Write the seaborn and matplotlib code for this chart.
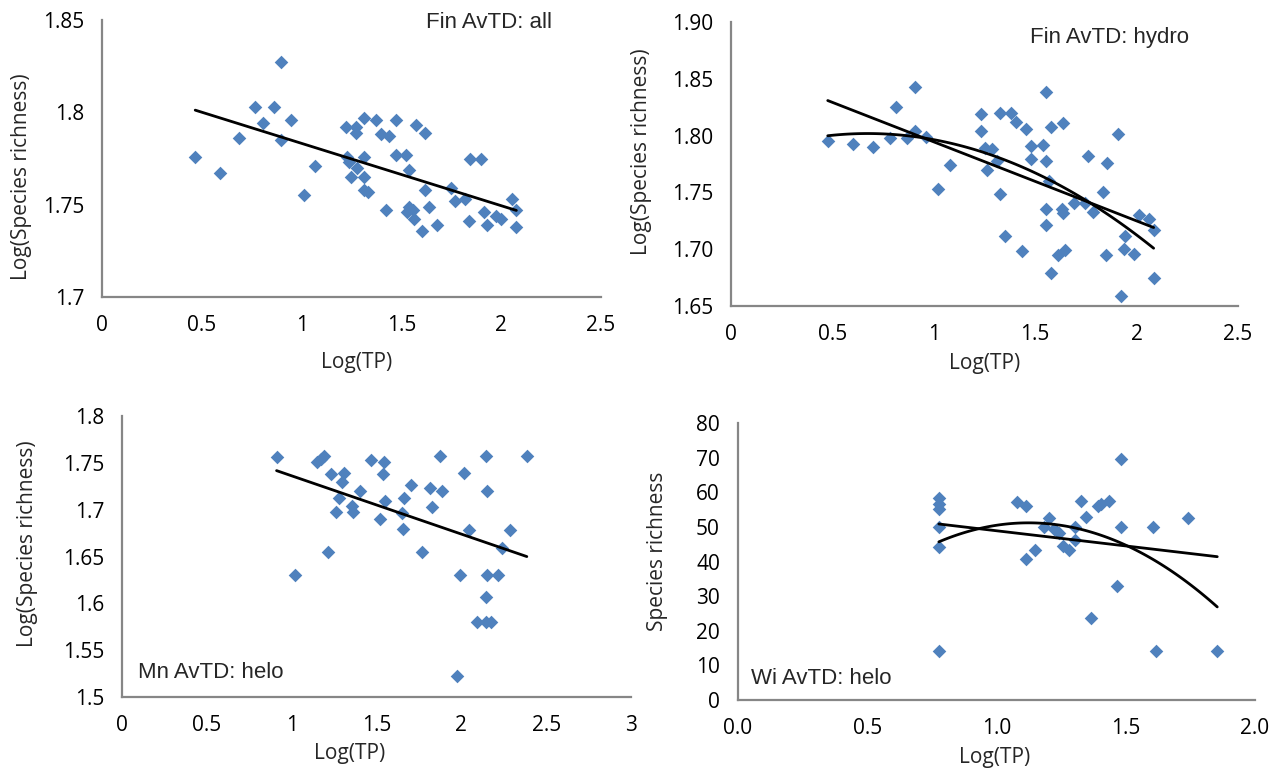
import matplotlib
matplotlib.use("Agg")
import matplotlib.pyplot as plt
import pandas as pd
import seaborn as sns
from matplotlib.ticker import FuncFormatter, MultipleLocator

W, H = 1285, 778
BLUE = "#4F81BD"
GREY = "#868686"

# Fin AvTD: all
fin_all_tp = [0.467, 0.590, 0.686, 0.765, 0.806, 0.861, 0.896, 0.896, 0.947, 1.012,
              1.067, 1.222, 1.273, 1.273, 1.313, 1.373, 1.225, 1.239, 1.278, 1.313,
              1.247, 1.313, 1.313, 1.333, 1.397, 1.436, 1.471, 1.471, 1.522, 1.539,
              1.424, 1.574, 1.620, 1.539, 1.530, 1.556, 1.565, 1.620, 1.637, 1.602,
              1.676, 1.750, 1.767, 1.819, 1.845, 1.901, 1.839, 1.913, 1.930, 1.973,
              1.999, 2.054, 2.076, 2.074]
fin_all_rich = [1.776, 1.767, 1.786, 1.803, 1.794, 1.803, 1.827, 1.785, 1.796, 1.755,
                1.771, 1.792, 1.792, 1.789, 1.797, 1.796, 1.776, 1.773, 1.770, 1.776,
                1.765, 1.765, 1.758, 1.757, 1.788, 1.787, 1.796, 1.777, 1.777, 1.769,
                1.747, 1.793, 1.789, 1.749, 1.746, 1.747, 1.742, 1.758, 1.749, 1.736,
                1.739, 1.759, 1.752, 1.753, 1.775, 1.775, 1.741, 1.746, 1.739, 1.744,
                1.742, 1.753, 1.747, 1.738]

# Fin AvTD: hydro
fin_hydro_tp = [0.477, 0.604, 0.700, 0.782, 0.816, 0.870, 0.909, 0.909, 0.961, 1.021,
                1.081, 1.235, 1.235, 1.251, 1.286, 1.260, 1.312, 1.326, 1.382, 1.404,
                1.453, 1.326, 1.351, 1.435, 1.479, 1.479, 1.537, 1.551, 1.554, 1.579,
                1.637, 1.567, 1.551, 1.554, 1.632, 1.637, 1.579, 1.614, 1.649, 1.689,
                1.760, 1.747, 1.786, 1.835, 1.856, 1.849, 1.909, 1.944, 1.940, 1.988,
                1.923, 2.011, 2.063, 2.084, 2.084]
fin_hydro_rich = [1.795, 1.793, 1.790, 1.798, 1.825, 1.798, 1.843, 1.804, 1.799, 1.753,
                  1.774, 1.819, 1.804, 1.789, 1.788, 1.770, 1.778, 1.820, 1.820, 1.812,
                  1.806, 1.749, 1.712, 1.698, 1.791, 1.779, 1.792, 1.838, 1.778, 1.808,
                  1.811, 1.760, 1.735, 1.721, 1.735, 1.732, 1.679, 1.695, 1.699, 1.741,
                  1.782, 1.741, 1.733, 1.750, 1.776, 1.695, 1.801, 1.712, 1.700, 1.696,
                  1.659, 1.730, 1.727, 1.717, 1.675]

# Mn AvTD: helo
mn_helo_tp = [0.911, 1.019, 1.147, 1.172, 1.192, 1.233, 1.310, 1.294, 1.280, 1.261,
              1.355, 1.359, 1.215, 1.402, 1.467, 1.545, 1.539, 1.551, 1.520, 1.649,
              1.657, 1.663, 1.702, 1.771, 1.816, 1.830, 1.885, 1.875, 1.977, 1.993,
              2.017, 2.046, 2.148, 2.154, 2.150, 2.217, 2.144, 2.091, 2.144, 2.174,
              2.242, 2.287, 2.386]
mn_helo_rich = [1.756, 1.630, 1.751, 1.754, 1.757, 1.738, 1.739, 1.730, 1.712, 1.698,
                1.704, 1.698, 1.655, 1.720, 1.753, 1.751, 1.738, 1.709, 1.690, 1.696,
                1.679, 1.712, 1.726, 1.655, 1.723, 1.703, 1.720, 1.757, 1.522, 1.630,
                1.739, 1.678, 1.757, 1.720, 1.630, 1.630, 1.607, 1.580, 1.580, 1.580,
                1.659, 1.678, 1.757]

# Wi AvTD: helo
wi_helo_tp = [0.777, 0.777, 0.777, 0.777, 0.777, 0.777, 1.079, 1.114, 1.114, 1.150,
              1.204, 1.182, 1.221, 1.240, 1.259, 1.279, 1.302, 1.305, 1.327, 1.346,
              1.392, 1.405, 1.437, 1.482, 1.482, 1.466, 1.366, 1.607, 1.618, 1.739,
              1.854]
wi_helo_rich = [14.2, 44.2, 50.1, 55.1, 56.7, 58.2, 57.2, 56.0, 40.8, 43.4,
                52.7, 50.1, 49.5, 48.2, 44.6, 43.4, 46.1, 50.1, 57.5, 52.9,
                55.9, 56.5, 57.5, 69.5, 50.1, 33.0, 23.7, 50.1, 14.2, 52.6,
                14.2]


def px_rect(left, top, right, bottom):
    return [left / W, 1 - bottom / H, (right - left) / W, (bottom - top) / H]


def style_axis(ax, xlim, ylim, xstep, ystep, xfmt, yfmt):
    ax.set_xlim(*xlim)
    ax.set_ylim(*ylim)
    ax.xaxis.set_major_locator(MultipleLocator(xstep))
    ax.yaxis.set_major_locator(MultipleLocator(ystep))
    ax.xaxis.set_major_formatter(FuncFormatter(lambda v, _: xfmt.format(v)))
    ax.yaxis.set_major_formatter(FuncFormatter(lambda v, _: yfmt.format(v)))
    for side in ["top", "right"]:
        ax.spines[side].set_visible(False)
    for side in ["left", "bottom"]:
        ax.spines[side].set_color(GREY)
        ax.spines[side].set_linewidth(1.6)
    ax.tick_params(axis="both", direction="out", length=5, width=1.6, color=GREY,
                   labelsize=15, labelcolor="black")
    ax.tick_params(axis="x", pad=8)
    ax.tick_params(axis="y", pad=8)
    ax.grid(False)


def set_labels(fig, ax, xlabel, ylabel, xpos, ypos):
    ax.set_xlabel(xlabel, fontsize=15)
    ax.set_ylabel(ylabel, fontsize=15)
    ax.xaxis.set_label_coords(xpos[0] / W, 1 - xpos[1] / H, transform=fig.transFigure)
    ax.yaxis.set_label_coords(ypos[0] / W, 1 - ypos[1] / H, transform=fig.transFigure)
    ax.xaxis.label.set_verticalalignment("center")
    ax.yaxis.label.set_verticalalignment("center")


def draw_panel(ax, x, y, orders):
    df = pd.DataFrame({"tp": x, "rich": y})
    sns.scatterplot(data=df, x="tp", y="rich", marker="D", s=48, color=BLUE,
                    linewidth=0, ax=ax, zorder=2)
    for order in orders:
        sns.regplot(data=df, x="tp", y="rich", order=order, scatter=False, ci=None,
                    truncate=True, color="black", line_kws={"linewidth": 2}, ax=ax)


def main() -> None:
    sns.set_style("white")
    plt.rcParams["font.family"] = ["Open Sans", "DejaVu Sans"]

    fig = plt.figure(figsize=(W / 100, H / 100), dpi=100)

    ax1 = fig.add_axes(px_rect(102, 20, 601, 297))
    draw_panel(ax1, fin_all_tp, fin_all_rich, [1])
    style_axis(ax1, (0, 2.5), (1.7, 1.85), 0.5, 0.05, "{:g}", "{:g}")
    set_labels(fig, ax1, "Log(TP)", "Log(Species richness)", (357, 362), (22, 177))
    fig.text(426 / W, 1 - 23 / H, "Fin AvTD: all", fontsize=16,
             family="Liberation Sans", va="center", ha="left")

    ax2 = fig.add_axes(px_rect(731, 22, 1238, 306))
    draw_panel(ax2, fin_hydro_tp, fin_hydro_rich, [1, 2])
    style_axis(ax2, (0, 2.5), (1.65, 1.9), 0.5, 0.05, "{:g}", "{:.2f}")
    set_labels(fig, ax2, "Log(TP)", "Log(Species richness)", (985, 363), (642, 152))
    fig.text(1030 / W, 1 - 37 / H, "Fin AvTD: hydro", fontsize=16,
             family="Liberation Sans", va="center", ha="left")

    ax3 = fig.add_axes(px_rect(122, 416, 631, 697))
    draw_panel(ax3, mn_helo_tp, mn_helo_rich, [1])
    style_axis(ax3, (0, 3), (1.5, 1.8), 0.5, 0.05, "{:g}", "{:g}")
    set_labels(fig, ax3, "Log(TP)", "Log(Species richness)", (350, 754), (27, 544))
    fig.text(138 / W, 1 - 672 / H, "Mn AvTD: helo", fontsize=16,
             family="Liberation Sans", va="center", ha="left")

    ax4 = fig.add_axes(px_rect(738, 423, 1255, 700))
    draw_panel(ax4, wi_helo_tp, wi_helo_rich, [1, 2])
    style_axis(ax4, (0, 2), (0, 80), 0.5, 10, "{:.1f}", "{:g}")
    set_labels(fig, ax4, "Log(TP)", "Species richness", (995, 757), (658, 551))
    fig.text(751 / W, 1 - 678 / H, "Wi AvTD: helo", fontsize=16,
             family="Liberation Sans", va="center", ha="left")

    fig.savefig("out.png", dpi=100)
    plt.close(fig)


if __name__ == "__main__":
    main()
